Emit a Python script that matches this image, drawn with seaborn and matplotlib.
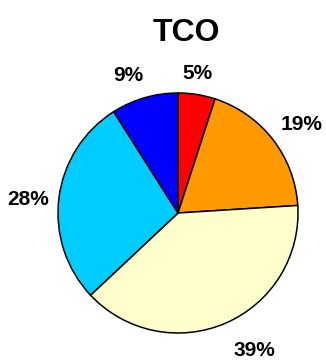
import numpy as np
import matplotlib
matplotlib.use("Agg")
import matplotlib.pyplot as plt
import seaborn as sns

sns.set_style("white")
plt.rcParams["font.family"] = ["Liberation Sans", "DejaVu Sans"]
plt.rcParams["text.color"] = "black"

# TCO breakdown, clockwise from 12 o'clock
segments = ["Red", "Orange", "Yellow", "Cyan", "Blue"]
shares = [5, 19, 39, 28, 9]
colors = ["#FF0000", "#FF9900", "#FFFFCC", "#00CCFF", "#0000FF"]

# label placement: distance from centre (in radii) and angular nudge (deg)
label_radius = [1.175, 1.27, 1.31, 1.25, 1.22]
label_nudge = [0.9, -2.1, 5.6, 2.2, 3.8]

fig = plt.figure(figsize=(3.26, 3.6), dpi=100)
ax = fig.add_axes([-2 / 326, -33 / 360, 360 / 326, 1.0])

wedges, _ = ax.pie(
    shares,
    colors=colors,
    startangle=90,
    counterclock=False,
    radius=1.0,
    wedgeprops=dict(edgecolor="black", linewidth=1.1),
)

for w, val, r, d in zip(wedges, shares, label_radius, label_nudge):
    mid = np.deg2rad((w.theta1 + w.theta2) / 2 + d)
    ax.text(r * np.cos(mid), r * np.sin(mid), f"{val}%",
            ha="center", va="center", fontsize=15, fontweight="bold",
            color="black")

ax.set_xlim(-1.5, 1.5)
ax.set_ylim(-1.5, 1.5)
ax.set_aspect("equal")
ax.axis("off")

fig.text(186 / 326, 1 - 33 / 360, "TCO", ha="center", va="center",
         fontsize=23, fontweight="bold", color="black")

fig.savefig("out.png", dpi=100, facecolor="white")
